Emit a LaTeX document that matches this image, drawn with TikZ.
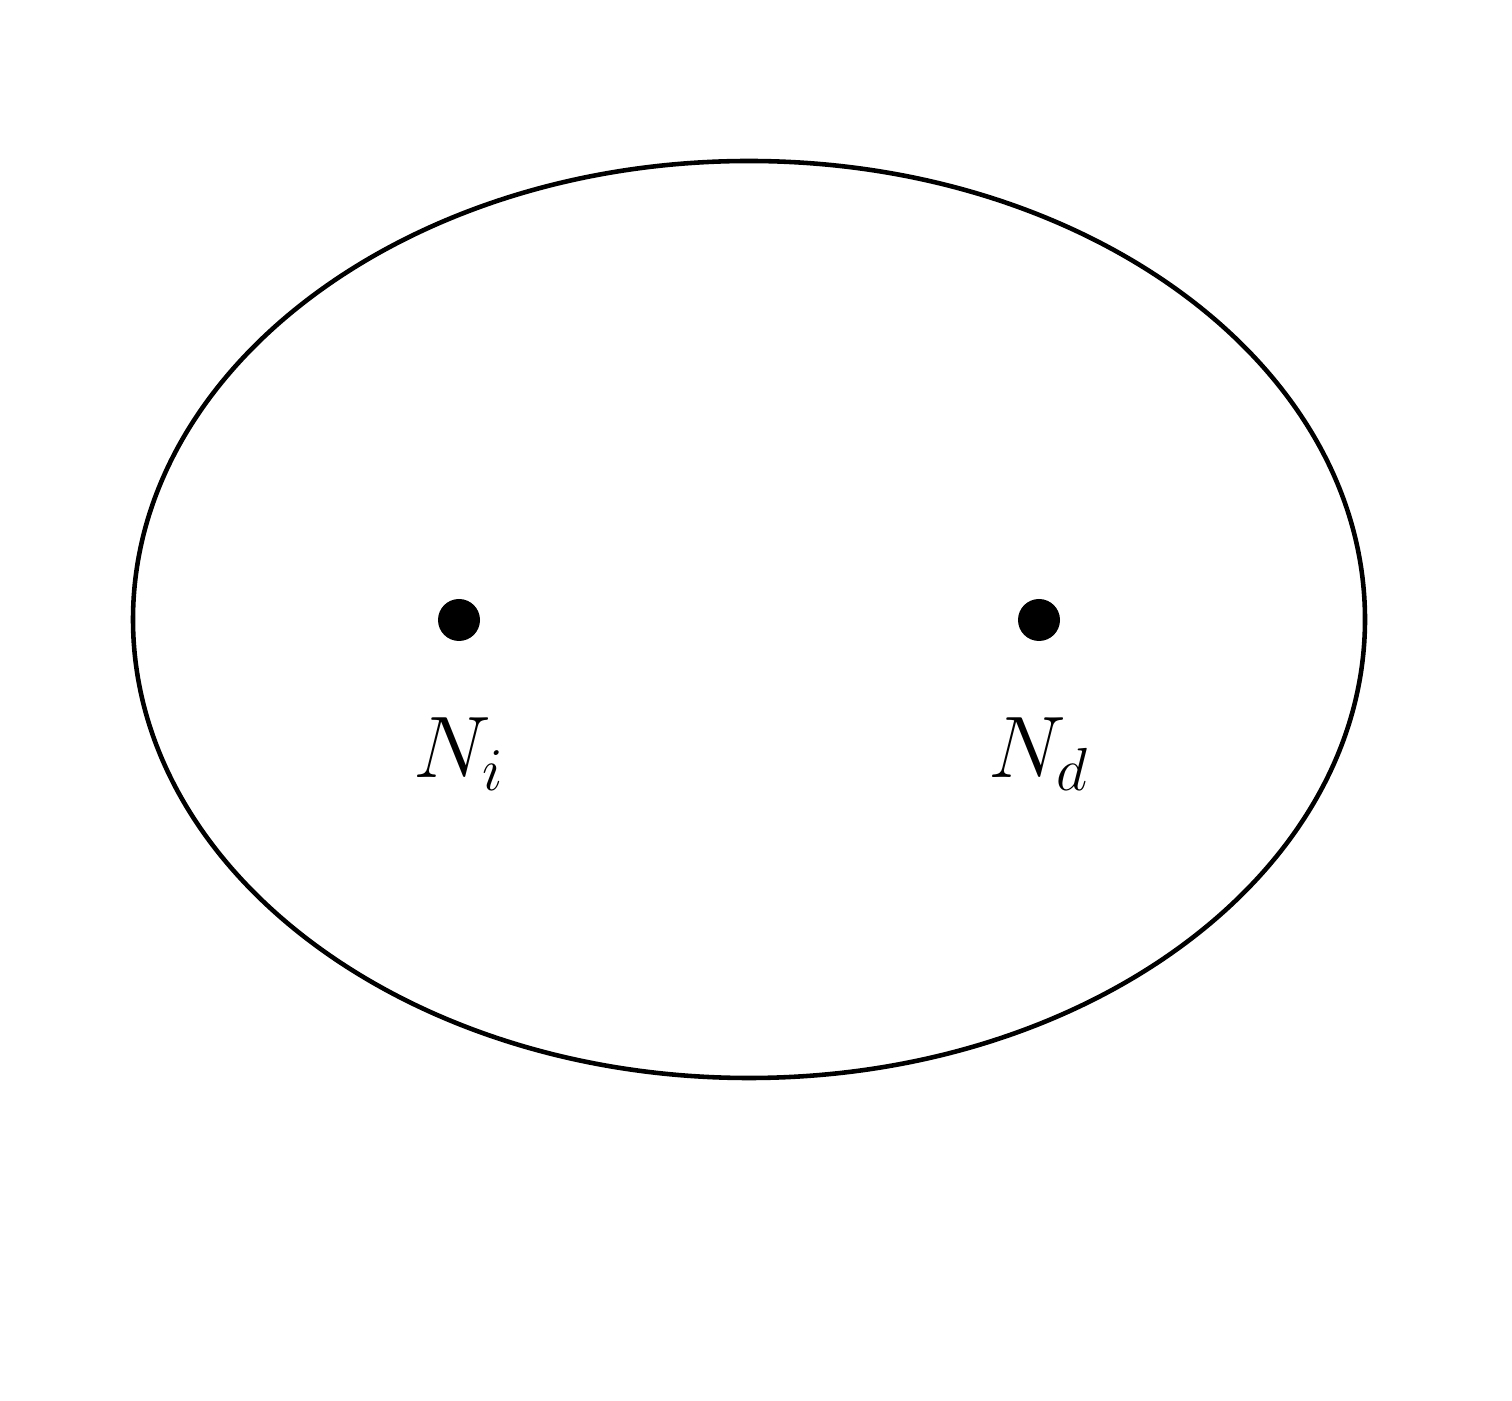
\documentclass[tikz,border=0pt]{standalone}
\usetikzlibrary{positioning}
\begin{document}
\begin{tikzpicture}[line join=round, line cap=round, font=\fontsize{23}{28}\selectfont]
			\tikzset{dot/.style={circle,fill=black,inner sep=0pt,minimum size=0.42cm},
				lbl/.style={inner sep=0pt}}
			\useasboundingbox (0,0) rectangle (15.12,-14.01);
			\draw[line width=1.3pt] (7.49,-6.195) ellipse [x radius=6.16, y radius=4.585];
			\node[dot] (ni) at (4.59,-6.2) {};
			\node[dot] (nd) at (10.39,-6.2) {};
			\node[lbl, below=0.75cm of ni] (ni label) {$N_i$};
			\node[lbl, below=0.75cm of nd] (nd label) {$N_d$};
		\end{tikzpicture}
\end{document}
